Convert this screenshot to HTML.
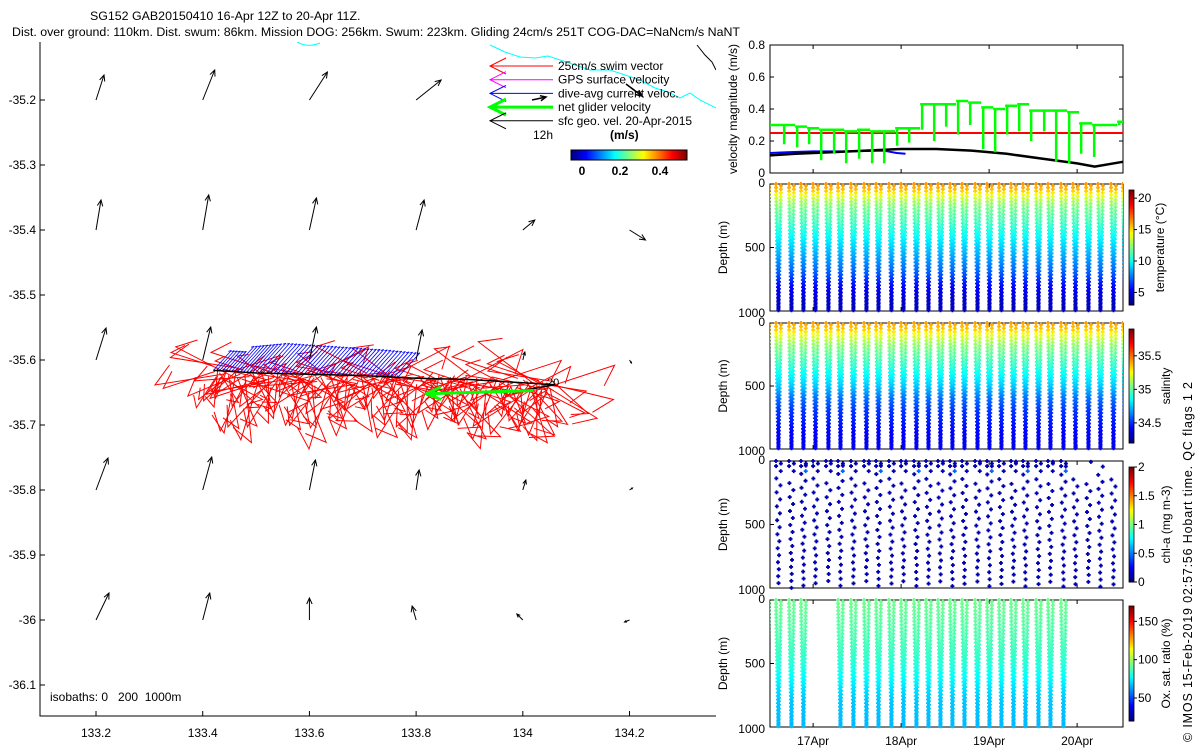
<!DOCTYPE html>
<html><head><meta charset="utf-8"><style>
html,body{margin:0;padding:0;background:#fff;}
svg{display:block;font-family:"Liberation Sans",sans-serif;}
</style></head><body>
<svg id="fig" width="1200" height="750" viewBox="0 0 1200 750" xmlns="http://www.w3.org/2000/svg">
<defs>
<clipPath id="cMap"><rect x="40" y="42" width="676" height="674"/></clipPath>
<clipPath id="cR"><rect x="770" y="40" width="353" height="700"/></clipPath>
</defs>
<text x="90" y="20" font-size="12.4">SG152 GAB20150410 16-Apr 12Z to 20-Apr 11Z.</text>
<text x="12" y="36" font-size="12.4" textLength="728">Dist. over ground: 110km. Dist. swum: 86km. Mission DOG: 256km. Swum: 223km. Gliding 24cm/s 251T COG-DAC=NaNcm/s NaNT</text>
<g id="map"></g>
<g id="right"></g>
<text transform="translate(1192,742) rotate(-90)" font-size="12.5" textLength="360">© IMOS 15-Feb-2019 02:57:56 Hobart time. QC flags 1  2</text>
</svg>
<script>
// ---------- data ----------
const lonTicks=[133.2,133.4,133.6,133.8,134,134.2];
const latTicks=[-35.2,-35.3,-35.4,-35.5,-35.6,-35.7,-35.8,-35.9,-36,-36.1];
const qLons=[133.2,133.4,133.6,133.8,134,134.2];
const qLats=[-35.2,-35.4,-35.6,-35.8,-36];
const qU=[[8,12,18,25,0,0],[5,6,7,8,12,16],[10,8,7,6,2,2],[12,9,6,3,3,3],[13,7,0,-4,-6,-5]];
const qV=[[-25,-30,-28,-20,0,0],[-30,-35,-32,-30,-10,10],[-32,-33,-33,-30,-8,3],[-32,-33,-30,-20,-10,-2],[-27,-27,-22,-14,-6,2]];
const trackLon=[133.42,133.5,133.6,133.7,133.8,133.9,134.0,134.06];
const trackLat=[-35.616,-35.62,-35.622,-35.624,-35.628,-35.63,-35.635,-35.638];
const netLon=[134.02,133.82];
const netLat=[-35.647,-35.652];
const swimAng=[200,160,120,95,60,30,15,170,140,110,80,45,-20,-150,190,100,70,135,155,20,-160,85,115,50,175,-30,65,125,145,10,105,75,-140,165,35,90,130];
const swimLen=[45,60,30,70,50,38,65,55,42,75,35,58,48,68,40,52,62,33,72,46,57,44,66];
// time series
const diveTimes=[16.44,16.578,16.726,16.862,16.999,17.146,17.283,17.430,17.578,17.715,17.862,17.999,18.146,18.283,18.419,18.555,18.692,18.840,18.976,19.112,19.249,19.385,19.533,19.669,19.817,19.953,20.101,20.237,20.385,20.52];
const netLevel=[0.30,0.30,0.29,0.28,0.27,0.27,0.26,0.27,0.26,0.26,0.28,0.28,0.43,0.43,0.43,0.45,0.44,0.41,0.40,0.42,0.43,0.39,0.39,0.39,0.38,0.31,0.30,0.30,0.32];
const netDip=[0.30,0.18,0.16,0.18,0.08,0.12,0.06,0.09,0.06,0.06,0.17,0.19,0.27,0.20,0.29,0.24,0.30,0.15,0.13,0.24,0.26,0.20,0.26,0.07,0.06,0.12,0.10,0.30,0.30];
const geoT=[16.51,16.8,17.2,17.6,18.0,18.4,18.8,19.2,19.6,20.0,20.2,20.52];
const geoV=[0.11,0.12,0.13,0.14,0.15,0.15,0.14,0.12,0.09,0.06,0.04,0.07];
const dacT=[16.51,16.7,17.0,17.4,17.8,17.95,18.05];
const dacV=[0.125,0.13,0.135,0.135,0.14,0.125,0.12];
const swimV=0.25;
const profDepth=[0,50,100,150,200,300,400,500,600,700,800,900,1000];
const tempProf=[16.3,15.5,13.8,12.6,11.8,11,10,9,8,7,5.5,4.5,4];
const salProf=[35.42,35.35,35.22,35.12,35.04,34.95,34.85,34.75,34.6,34.5,34.45,34.4,34.38];
const oxProf=[93,92,91,90,89,87,85,82,77,72,68,67,66];
const oxDives=[0,1,2,3,6,7,8,9,10,11,12,13,14,15,16,17,18,19,20,21,22,23,24];
const velTicks=[0,0.2,0.4,0.6,0.8];
const depthTicks=[0,500,1000];
const dateTicks=[17,18,19,20];
const dateLabels=['17Apr','18Apr','19Apr','20Apr'];

// ---------- helpers ----------
const NS='http://www.w3.org/2000/svg';
function mk(par,tag,at){const e=document.createElementNS(NS,tag);for(const k in at)e.setAttribute(k,at[k]);par.appendChild(e);return e;}
function jet(v){v=Math.max(0,Math.min(1,v));const r=Math.max(0,Math.min(1,1.5-Math.abs(4*v-3)));const g=Math.max(0,Math.min(1,1.5-Math.abs(4*v-2)));const b=Math.max(0,Math.min(1,1.5-Math.abs(4*v-1)));return `rgb(${r*255|0},${g*255|0},${b*255|0})`;}
function interp(xs,ys,x){if(x<=xs[0])return ys[0];for(let i=1;i<xs.length;i++)if(x<=xs[i]){const f=(x-xs[i-1])/(xs[i]-xs[i-1]);return ys[i-1]+f*(ys[i]-ys[i-1]);}return ys[ys.length-1];}
const map=document.getElementById('map'), R=document.getElementById('right');
const X=lon=>40+(lon-133.095)*533.5;
const Y=lat=>620-(lat+36)*650;

// ---------- map ----------
let ax=mk(map,'path',{d:'M40,42V716H716',fill:'none',stroke:'#000'});

lonTicks.forEach(l=>{mk(map,'line',{x1:X(l),x2:X(l),y1:716,y2:711,stroke:'#000'});
 const t=mk(map,'text',{x:X(l),y:737,'font-size':12,'text-anchor':'middle'});t.textContent=l;
 });
latTicks.forEach(l=>{mk(map,'line',{x1:40,x2:45,y1:Y(l),y2:Y(l),stroke:'#000'});
 const t=mk(map,'text',{x:36,y:Y(l)+4,'font-size':12,'text-anchor':'end'});t.textContent=l;
 });
const mg=mk(map,'g',{'clip-path':'url(#cMap)'});
mk(mg,'path',{d:'M297,42Q308,48 320,43',fill:'none',stroke:'#0ff'});
mk(mg,'path',{d:'M490,45L505,52 520,57 535,58 548,56 560,60 575,65 590,70 610,70 625,75 640,80 655,88 668,92 680,98 690,93 700,100 716,108',fill:'none',stroke:'#0ff'});
mk(mg,'path',{d:'M697,45L705,55 712,62 716,70',fill:'none',stroke:'#000'});
function arrow(g,x,y,dx,dy,col,w,hs){mk(g,'line',{x1:x,y1:y,x2:x+dx,y2:y+dy,stroke:col,'stroke-width':w});
 const L=Math.hypot(dx,dy);if(L<1)return;const ux=dx/L,uy=dy/L,h=Math.min(hs,L*0.4);
 const ex=x+dx,ey=y+dy;
 mk(g,'path',{d:`M${ex-h*ux-h*0.45*uy},${ey-h*uy+h*0.45*ux}L${ex},${ey}L${ex-h*ux+h*0.45*uy},${ey-h*uy-h*0.45*ux}`,fill:'none',stroke:col,'stroke-width':w});}
const tpts=[];const N=200;
for(let i=0;i<N;i++){const f=i/(N-1)*(trackLon.length-1);const k=Math.min(Math.floor(f),trackLon.length-2),r=f-k;
 tpts.push([X(trackLon[k]+r*(trackLon[k+1]-trackLon[k])),Y(trackLat[k]+r*(trackLat[k+1]-trackLat[k]))]);}
const red=mk(mg,'g',{});
tpts.forEach((p,i)=>{const a=swimAng[i%swimAng.length]*Math.PI/180,L=swimLen[(i*7)%swimLen.length];
 const dx=L*Math.cos(a),dy=L*Math.sin(a)*0.9,x=p[0],y=p[1]+((i*5)%14)-4;
 mk(red,'path',{d:`M${x},${y}L${x+dx},${y+dy}L${x+dx*0.75-dy*0.25},${y+dy*0.75+dx*0.25}`,fill:'none',stroke:'#f00','stroke-width':1});});
const blue=mk(mg,'g',{});
tpts.forEach((p,i)=>{if(p[0]>400||i%2)return;const h=p[0]<230?20:(p[0]<260?25+(p[0]-230)/6:30-(p[0]-260)/25);
 mk(blue,'line',{x1:p[0],y1:p[1],x2:p[0]+h*0.9,y2:p[1]-h,stroke:'#00f','stroke-width':0.8});
 mk(blue,'line',{x1:p[0]+h*0.9,y1:p[1]-h,x2:p[0]+h*0.9-3,y2:p[1]-h+1,stroke:'#00f','stroke-width':0.8});});
let tr=mk(mg,'polyline',{points:trackLon.map((l,i)=>X(l)+','+Y(trackLat[i])).join(' '),fill:'none',stroke:'#000','stroke-width':1.5});

mk(mg,'polyline',{points:`${X(134.0)},${Y(-35.647)} ${X(134.06)},${Y(-35.638)}`,fill:'none',stroke:'#000','stroke-width':1.5});
const net=mk(mg,'g',{});
arrow(net,X(netLon[0]),Y(netLat[0]),X(netLon[1])-X(netLon[0]),Y(netLat[1])-Y(netLat[0]),'#0f0',3,14);
const t20=mk(mg,'text',{x:547,y:386,'font-size':11});t20.textContent='20';
const qg=mk(mg,'g',{});
qLats.forEach((la,j)=>qLons.forEach((lo,i)=>{const u=qU[j][i],v=qV[j][i];if(u===0&&v===0)return;arrow(qg,X(lo),Y(la),u,v,'#000',1,6);}));
arrow(qg,532,100,14,-3,'#000',1.5,6);arrow(qg,626,84,16,12,'#000',1.5,6);
// legend
const lg=mk(map,'g',{});
const legC=['#f00','#f0f','#00f','#0f0','#000'],legT=['25cm/s swim vector','GPS surface velocity','dive-avg current veloc.','net glider velocity','sfc geo. vel. 20-Apr-2015'];
legT.forEach((s,i)=>{const y=66+i*13.7;const w=i==3?3:1;
 mk(lg,'path',{d:`M506,${y-8}L490,${y}L506,${y+8}M490,${y}H553`,fill:'none',stroke:legC[i],'stroke-width':w});
 const t=mk(lg,'text',{x:558,y:y+4,'font-size':12});t.textContent=s;});
let tt=mk(lg,'text',{x:533,y:139,'font-size':12});tt.textContent='12h';
tt=mk(lg,'text',{x:610,y:139,'font-size':12,'font-weight':'bold'});tt.textContent='(m/s)';
for(let i=0;i<116;i++)mk(lg,'rect',{x:571+i,y:150,width:1.2,height:10,fill:jet(i/115)});
mk(lg,'rect',{x:571,y:150,width:116,height:10,fill:'none',stroke:'#000'});
[[0,582],[0.2,620],[0.4,660]].forEach(a=>{const t=mk(lg,'text',{x:a[1],y:175,'font-size':12,'font-weight':'bold','text-anchor':'middle'});t.textContent=a[0];});
tt=mk(map,'text',{x:50,y:701,'font-size':12});tt.textContent='isobaths: 0   200  1000m';tt.setAttribute('xml:space','preserve');tt.style.whiteSpace='pre';

// ---------- right panels ----------
const TX=t=>770+(t-16.51)*88;
function frame(y0,y1,name){const f=mk(R,'rect',{x:770,y:y0,width:353,height:y1-y0,fill:'none',stroke:'#000'});
 
 dateTicks.forEach(d=>{mk(R,'line',{x1:TX(d),x2:TX(d),y1:y1,y2:y1-4,stroke:'#000'});mk(R,'line',{x1:TX(d),x2:TX(d),y1:y0,y2:y0+4,stroke:'#000'});});}
const VY=v=>173-v*160;
frame(45,173,'velocity-panel');
velTicks.forEach(v=>{mk(R,'line',{x1:770,x2:774,y1:VY(v),y2:VY(v),stroke:'#000'});mk(R,'line',{x1:1123,x2:1119,y1:VY(v),y2:VY(v),stroke:'#000'});
 const t=mk(R,'text',{x:765,y:VY(v)+4,'font-size':12,'text-anchor':'end'});t.textContent=v;});
tt=mk(R,'text',{transform:'translate(737,109) rotate(-90)','font-size':12,'text-anchor':'middle'});tt.textContent='velocity magnitude (m/s)';
const vg=mk(R,'g',{'clip-path':'url(#cR)'});
let e=mk(vg,'line',{x1:770,x2:1123,y1:VY(swimV),y2:VY(swimV),stroke:'#f00','stroke-width':2});
e=mk(vg,'polyline',{points:dacT.map((t,i)=>TX(t)+','+VY(dacV[i])).join(' '),fill:'none',stroke:'#00f','stroke-width':2});
e=mk(vg,'polyline',{points:geoT.map((t,i)=>TX(t)+','+VY(geoV[i])).join(' '),fill:'none',stroke:'#000','stroke-width':2.5});
let gd='';netLevel.forEach((v,i)=>{const x0=Math.max(770,TX(diveTimes[i]+0.07)),x1=TX(diveTimes[i+1]+0.07);
 gd+=`M${x0},${VY(v)}H${x1}M${x0+2},${VY(v)}V${VY(netDip[i])}`;});
e=mk(vg,'path',{d:gd,fill:'none',stroke:'#0f0','stroke-width':2.5});

function profPanel(y0,y1,name,prof,vmin,vmax,cbTicks,label,labX,dives,sparse){
 frame(y0,y1,name);const DY=d=>y0+(d/1000)*(y1-y0);
 depthTicks.forEach(d=>{mk(R,'line',{x1:770,x2:774,y1:DY(d),y2:DY(d),stroke:'#000'});
  const t=mk(R,'text',{x:765,y:DY(d)+(d==0?3:d==1000?6:4),'font-size':12,'text-anchor':'end'});t.textContent=d;});
 let t=mk(R,'text',{transform:`translate(727,${(y0+y1)/2}) rotate(-90)`,'font-size':12,'text-anchor':'middle'});t.textContent='Depth (m)';
 const g=mk(R,'g',{'clip-path':'url(#cR)'});
 const half=0.028;
 dives.forEach(i=>{const t0=diveTimes[i];
  const list=[];
  if(sparse)sparse(i).forEach(s=>list.push(s));
  else for(let d=0;d<=1000;d+=28){list.push([d,0]);list.push([d+14,1]);}
  list.forEach(s=>{const d=Math.min(s[0],1000),up=s[1];
   const tx=up?t0+2*half-half*(d/1000):t0+half*(d/1000);
   const val=s.length>2?s[2]:interp(profDepth,prof,d);
   const x=TX(tx),y=DY(d),c=jet((val-vmin)/(vmax-vmin));
   mk(g,'path',{d:`M${x-2},${y}H${x+2}M${x},${y-2}V${y+2}`,stroke:c,'stroke-width':1.8});});});
 const cy0=y0+6,cy1=y1-6;
 for(let k=0;k<60;k++)mk(R,'rect',{x:1129,y:cy0+(cy1-cy0)*k/60,width:5,height:(cy1-cy0)/60+0.5,fill:jet(1-k/59)});
 mk(R,'rect',{x:1129,y:cy0,width:5,height:cy1-cy0,fill:'none',stroke:'#000','stroke-width':0.8});
 cbTicks.forEach(v=>{const y=cy1-(v-vmin)/(vmax-vmin)*(cy1-cy0);mk(R,'line',{x1:1134,x2:1137,y1:y,y2:y,stroke:'#000'});
  const tx=mk(R,'text',{x:1138,y:y+4,'font-size':12});tx.textContent=v;});
 t=mk(R,'text',{transform:`translate(${labX},${(y0+y1)/2}) rotate(-90)`,'font-size':12,'text-anchor':'middle'});t.textContent=label;
 
 return DY;}
const all=diveTimes.map((_,i)=>i);
profPanel(184,311,'temperature-panel',tempProf,3,21.3,[5,10,15,20],'temperature (°C)',1164,all,null);
profPanel(323,449,'salinity-panel',salProf,34.2,35.9,[34.5,35,35.5],'salinity',1170,all,null);
profPanel(461,588,'chl-panel',[0.1,0.1],0,2,[0,0.5,1,1.5,2],'chl-a (mg m-3)',1170,all.slice(1,29),i=>{const s=[];
 const off=(i*37)%110;for(let d=off+100;d<=1000;d+=110){s.push([d,0,0.1]);s.push([(d+55)%1000,1,0.1]);}
 if(i<25){s.push([0,0,0.1]);s.push([40,0,0.1]);s.push([80,1,i%3==0?0.45:0.12]);s.push([20,1,0.1]);}return s;});
profPanel(600,727,'oxygen-panel',oxProf,20,170,[50,100,150],'Ox. sat. ratio (%)',1170,oxDives,null);
dateTicks.forEach((d,i)=>{const t=mk(R,'text',{x:TX(d),y:745,'font-size':12,'text-anchor':'middle'});t.textContent=dateLabels[i];
 });
</script>
</body></html>
